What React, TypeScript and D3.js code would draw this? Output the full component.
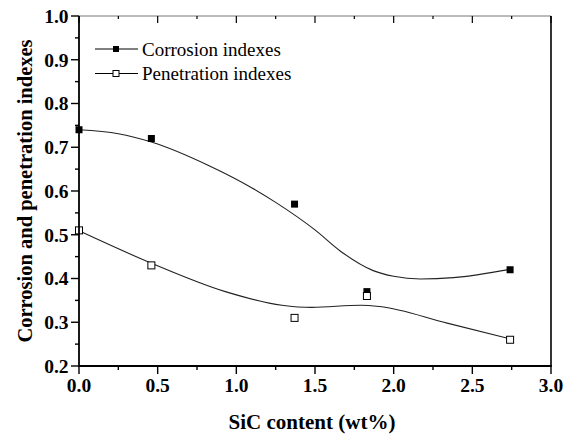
import { useMemo } from "react";
import * as d3 from "d3";

const W = 565;
const H = 437;
const M = { left: 79, right: 551, top: 16, bottom: 366 };

const X_TICKS = [0, 0.5, 1.0, 1.5, 2.0, 2.5, 3.0];
const Y_TICKS = [0.2, 0.3, 0.4, 0.5, 0.6, 0.7, 0.8, 0.9, 1.0];

// measured points
const sicContent = [0, 0.46, 1.37, 1.83, 2.74];
const corrosionIdx = [0.74, 0.72, 0.57, 0.37, 0.42];
const penetrationIdx = [0.51, 0.43, 0.31, 0.36, 0.26];

// fitted curves
const corrosionFitX = [0, 0.25, 0.46, 0.82, 1.1, 1.25, 1.5, 1.66, 1.87, 2.0, 2.17, 2.38, 2.74];
const corrosionFitY = [0.74, 0.731, 0.712, 0.659, 0.607, 0.574, 0.511, 0.463, 0.418, 0.405, 0.399, 0.402, 0.421];
const penetrationFitX = [0, 0.46, 0.93, 1.29, 1.48, 1.79, 1.91, 2.34, 2.74];
const penetrationFitY = [0.509, 0.435, 0.37, 0.339, 0.334, 0.339, 0.336, 0.298, 0.262];

const SERIES = [
  { name: "Corrosion indexes", ys: corrosionIdx, fx: corrosionFitX, fy: corrosionFitY, filled: true },
  { name: "Penetration indexes", ys: penetrationIdx, fx: penetrationFitX, fy: penetrationFitY, filled: false },
];

const FONT = "Liberation Serif, DejaVu Serif, serif";

export default function App() {
  const x = useMemo(() => d3.scaleLinear().domain([0, 3]).range([M.left, M.right]), []);
  const y = useMemo(() => d3.scaleLinear().domain([0.2, 1.0]).range([M.bottom, M.top]), []);

  const xMinor = d3.range(0, 3.001, 0.25);
  const yMinor = d3.range(0.2, 1.0001, 0.05);

  const line = d3
    .line<[number, number]>()
    .x((d) => x(d[0]))
    .y((d) => y(d[1]))
    .curve(d3.curveMonotoneX);

  const S = 7;

  return (
    <svg
      width={W}
      height={H}
      style={{ position: "absolute", left: 0, top: 0, background: "#fff", fontFamily: FONT }}
    >
      {/* curves */}
      {SERIES.map((s) => (
        <path
          key={s.name + "-fit"}
          d={line(s.fx.map((v, i) => [v, s.fy[i]] as [number, number])) ?? ""}
          fill="none"
          stroke="#222"
          strokeWidth={1.1}
        />
      ))}

      {/* markers */}
      {SERIES.map((s) =>
        sicContent.map((v, i) => (
          <rect
            key={s.name + i}
            x={x(v) - S / 2}
            y={y(s.ys[i]) - S / 2}
            width={S}
            height={S}
            fill={s.filled ? "#000" : "#fff"}
            stroke="#000"
            strokeWidth={s.filled ? 0 : 1}
          />
        )),
      )}

      {/* frame */}
      <line x1={M.left} x2={M.right} y1={M.top} y2={M.top} stroke="#777" strokeWidth={1} />
      <line x1={M.right} x2={M.right} y1={M.top} y2={M.bottom} stroke="#000" strokeWidth={1.6} />
      <line x1={M.left} x2={M.right + 0.8} y1={M.bottom} y2={M.bottom} stroke="#000" strokeWidth={1.8} />
      <line x1={M.left} x2={M.left} y1={M.top} y2={M.bottom + 0.9} stroke="#000" strokeWidth={1.8} />

      {/* x ticks */}
      {xMinor.map((v, i) => {
        const major = i % 2 === 0;
        return (
          <g key={"xt" + i}>
            <line x1={x(v)} x2={x(v)} y1={M.bottom} y2={M.bottom + (major ? 8 : 4)} stroke="#000" strokeWidth={1.4} />
            <line x1={x(v)} x2={x(v)} y1={M.top} y2={M.top + (major ? 7 : 3)} stroke="#000" strokeWidth={1.2} />
          </g>
        );
      })}
      {X_TICKS.map((v) => (
        <text key={"xl" + v} x={x(v)} y={392} textAnchor="middle" fontSize={19.5} fontWeight="bold">
          {v.toFixed(1)}
        </text>
      ))}

      {/* y ticks */}
      {yMinor.map((v, i) => {
        const major = i % 2 === 0;
        return (
          <line
            key={"yt" + i}
            x1={M.left - (major ? 8 : 4)}
            x2={M.left}
            y1={y(v)}
            y2={y(v)}
            stroke="#000"
            strokeWidth={1.4}
          />
        );
      })}
      {Y_TICKS.map((v) => (
        <text key={"yl" + v} x={68.5} y={y(v) + 6.8} textAnchor="end" fontSize={19.5} fontWeight="bold">
          {v.toFixed(1)}
        </text>
      ))}

      {/* axis titles */}
      <text x={312} y={429} textAnchor="middle" fontSize={21} fontWeight="bold">
        SiC content (wt%)
      </text>
      <text
        transform={`translate(32, ${(M.top + M.bottom) / 2}) rotate(-90)`}
        textAnchor="middle"
        fontSize={20.5}
        fontWeight="bold"
      >
        Corrosion and penetration indexes
      </text>

      {/* legend */}
      {SERIES.map((s, i) => {
        const ly = 49 + i * 24.5;
        return (
          <g key={"lg" + i}>
            <line x1={95} x2={138} y1={ly} y2={ly} stroke="#000" strokeWidth={1.2} />
            <rect
              x={116 - 3}
              y={ly - 3}
              width={6}
              height={6}
              fill={s.filled ? "#000" : "#fff"}
              stroke="#000"
              strokeWidth={s.filled ? 0 : 1}
            />
            <text x={142} y={ly + 6.5} fontSize={19}>
              {s.name}
            </text>
          </g>
        );
      })}
    </svg>
  );
}
